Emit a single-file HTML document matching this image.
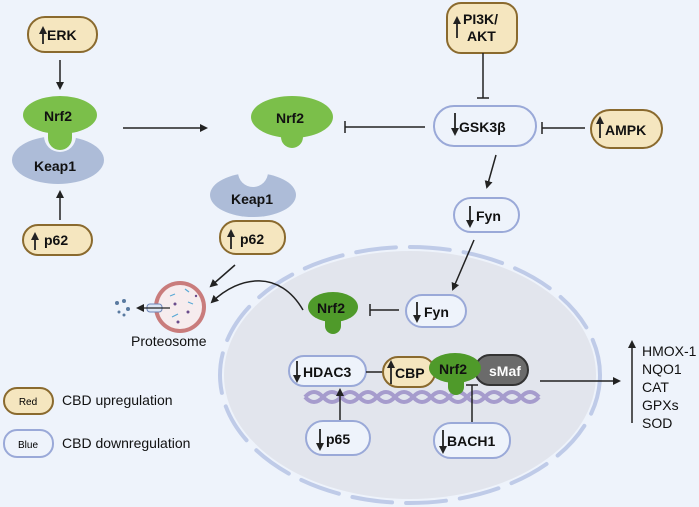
<!DOCTYPE html><html><head><style>body{margin:0;background:#eef3fb}svg{display:block;font-family:"Liberation Sans",sans-serif}</style></head><body>
<svg width="699" height="507" viewBox="0 0 699 507">
<defs><marker id="a" markerWidth="8" markerHeight="8" refX="6" refY="4" orient="auto" markerUnits="userSpaceOnUse"><path d="M0,0 L8,4 L0,8z" fill="#222"/></marker></defs>
<rect width="699" height="507" fill="#eef3fb"/>
<ellipse cx="410" cy="375" rx="186" ry="124" fill="#e2e5ed"/>
<ellipse cx="410" cy="375" rx="190" ry="128" fill="none" stroke="#bfcbe8" stroke-width="4" stroke-dasharray="40 14" stroke-linecap="round"/>
<g font-weight="bold" font-size="14" fill="#111">
<rect x="28" y="17" width="69" height="35" rx="17" fill="#f5e6bf" stroke="#8a6a2e" stroke-width="2"/>
<text x="47" y="40">ERK</text><line x1="43" y1="44" x2="43" y2="28" stroke="#222" stroke-width="1.8" marker-end="url(#a)"/>
<line x1="60" y1="60" x2="60" y2="88" stroke="#222" stroke-width="1.5" marker-end="url(#a)"/>
<ellipse cx="58" cy="160" rx="46" ry="24" fill="#adbcd8"/>
<circle cx="60" cy="136" r="16" fill="#eef3fb"/>
<text x="34" y="171">Keap1</text>
<ellipse cx="60" cy="115" rx="37" ry="19" fill="#7bbf4a"/><circle cx="60" cy="138" r="12" fill="#7bbf4a"/><rect x="48" y="120" width="24" height="18" fill="#7bbf4a"/>
<text x="44" y="121">Nrf2</text>
<line x1="60" y1="220" x2="60" y2="192" stroke="#222" stroke-width="1.5" marker-end="url(#a)"/>
<rect x="23" y="225" width="69" height="30" rx="15" fill="#f5e6bf" stroke="#8a6a2e" stroke-width="2"/>
<text x="44" y="245">p62</text><line x1="35" y1="250" x2="35" y2="234" stroke="#222" stroke-width="1.8" marker-end="url(#a)"/>
<line x1="123" y1="128" x2="206" y2="128" stroke="#222" stroke-width="1.5" marker-end="url(#a)"/>
<ellipse cx="292" cy="117" rx="41" ry="21" fill="#7bbf4a"/><circle cx="292" cy="137" r="11" fill="#7bbf4a"/><rect x="281" y="120" width="22" height="17" fill="#7bbf4a"/>
<text x="276" y="123">Nrf2</text>
<ellipse cx="253" cy="195" rx="43" ry="22" fill="#adbcd8"/><circle cx="253" cy="172" r="15" fill="#eef3fb"/>
<text x="231" y="204">Keap1</text>
<rect x="220" y="221" width="65" height="33" rx="16" fill="#f5e6bf" stroke="#8a6a2e" stroke-width="2"/>
<text x="240" y="244">p62</text><line x1="231" y1="249" x2="231" y2="231" stroke="#222" stroke-width="1.8" marker-end="url(#a)"/>
<line x1="345" y1="127" x2="425" y2="127" stroke="#222" stroke-width="1.5"/><line x1="345" y1="121" x2="345" y2="133" stroke="#222" stroke-width="1.5"/>
<rect x="434" y="106" width="102" height="40" rx="20" fill="#eef3fb" stroke="#9aa9d8" stroke-width="2"/>
<text x="459" y="132">GSK3β</text><line x1="455" y1="113" x2="455" y2="134" stroke="#222" stroke-width="1.8" marker-end="url(#a)"/>
<rect x="447" y="3" width="70" height="50" rx="14" fill="#f5e6bf" stroke="#8a6a2e" stroke-width="2"/>
<text x="463" y="24">PI3K/</text><text x="467" y="41">AKT</text><line x1="457" y1="38" x2="457" y2="18" stroke="#222" stroke-width="1.8" marker-end="url(#a)"/>
<line x1="483" y1="53" x2="483" y2="98" stroke="#222" stroke-width="1.5"/><line x1="477" y1="98" x2="489" y2="98" stroke="#222" stroke-width="1.5"/>
<rect x="591" y="110" width="71" height="38" rx="19" fill="#f5e6bf" stroke="#8a6a2e" stroke-width="2"/>
<text x="605" y="135">AMPK</text><line x1="600" y1="138" x2="600" y2="118" stroke="#222" stroke-width="1.8" marker-end="url(#a)"/>
<line x1="542" y1="128" x2="585" y2="128" stroke="#222" stroke-width="1.5"/><line x1="542" y1="122" x2="542" y2="134" stroke="#222" stroke-width="1.5"/>
<line x1="496" y1="155" x2="487" y2="187" stroke="#222" stroke-width="1.5" marker-end="url(#a)"/>
<rect x="454" y="198" width="65" height="34" rx="17" fill="#eef3fb" stroke="#9aa9d8" stroke-width="2"/>
<text x="476" y="221">Fyn</text><line x1="470" y1="206" x2="470" y2="226" stroke="#222" stroke-width="1.8" marker-end="url(#a)"/>
<line x1="474" y1="240" x2="453" y2="289" stroke="#222" stroke-width="1.5" marker-end="url(#a)"/>
<rect x="406" y="295" width="60" height="32" rx="16" fill="#eef3fb" stroke="#9aa9d8" stroke-width="2"/>
<text x="424" y="317">Fyn</text><line x1="417" y1="302" x2="417" y2="321" stroke="#222" stroke-width="1.8" marker-end="url(#a)"/>
<line x1="370" y1="310" x2="399" y2="310" stroke="#222" stroke-width="1.5"/><line x1="370" y1="304" x2="370" y2="316" stroke="#222" stroke-width="1.5"/>
<ellipse cx="333" cy="307" rx="25" ry="15" fill="#4f9a2a"/><circle cx="333" cy="326" r="8" fill="#4f9a2a"/><rect x="325" y="315" width="16" height="11" fill="#4f9a2a"/>
<text x="317" y="313">Nrf2</text>
<path d="M303,310 C280,270 240,275 212,302" fill="none" stroke="#222" stroke-width="1.5" marker-end="url(#a)"/>
<line x1="235" y1="265" x2="211" y2="286" stroke="#222" stroke-width="1.5" marker-end="url(#a)"/>
<path d="M305,397 q9,-10 18,0 t18,0 t18,0 t18,0 t18,0 t18,0 t18,0 t18,0 t18,0 t18,0 t18,0 t18,0 t18,0" fill="none" stroke="#a69ccd" stroke-width="4"/>
<path d="M305,397 q9,10 18,0 t18,0 t18,0 t18,0 t18,0 t18,0 t18,0 t18,0 t18,0 t18,0 t18,0 t18,0 t18,0" fill="none" stroke="#a69ccd" stroke-width="4"/>
<rect x="289" y="356" width="77" height="30" rx="15" fill="#eef3fb" stroke="#9aa9d8" stroke-width="2"/>
<text x="303" y="377">HDAC3</text><line x1="297" y1="361" x2="297" y2="381" stroke="#222" stroke-width="1.8" marker-end="url(#a)"/>
<line x1="366" y1="372" x2="385" y2="372" stroke="#222" stroke-width="1.5"/><line x1="385" y1="366" x2="385" y2="378" stroke="#222" stroke-width="1.5"/>
<rect x="383" y="357" width="52" height="30" rx="15" fill="#f5e6bf" stroke="#8a6a2e" stroke-width="2"/>
<text x="395" y="378">CBP</text><line x1="391" y1="384" x2="391" y2="362" stroke="#222" stroke-width="1.8" marker-end="url(#a)"/>
<rect x="475" y="355" width="53" height="30" rx="15" fill="#6b6b6b" stroke="#333" stroke-width="2"/>
<text x="489" y="376" fill="#fff">sMaf</text>
<ellipse cx="455" cy="368" rx="26" ry="15" fill="#4f9a2a"/><circle cx="456" cy="387" r="8" fill="#4f9a2a"/><rect x="448" y="376" width="16" height="11" fill="#4f9a2a"/>
<text x="439" y="374">Nrf2</text>
<line x1="340" y1="420" x2="340" y2="390" stroke="#222" stroke-width="1.5" marker-end="url(#a)"/>
<rect x="306" y="421" width="64" height="34" rx="17" fill="#eef3fb" stroke="#9aa9d8" stroke-width="2"/>
<text x="326" y="444">p65</text><line x1="320" y1="429" x2="320" y2="449" stroke="#222" stroke-width="1.8" marker-end="url(#a)"/>
<line x1="472" y1="422" x2="472" y2="385" stroke="#222" stroke-width="1.5"/><line x1="466" y1="385" x2="478" y2="385" stroke="#222" stroke-width="1.5"/>
<rect x="434" y="423" width="76" height="35" rx="17" fill="#eef3fb" stroke="#9aa9d8" stroke-width="2"/>
<text x="447" y="446">BACH1</text><line x1="443" y1="430" x2="443" y2="452" stroke="#222" stroke-width="1.8" marker-end="url(#a)"/>
</g>
<line x1="540" y1="381" x2="619" y2="381" stroke="#222" stroke-width="1.5" marker-end="url(#a)"/>
<line x1="632" y1="423" x2="632" y2="342" stroke="#222" stroke-width="1.5" marker-end="url(#a)"/>
<g font-size="14" fill="#111"><text x="642" y="356">HMOX-1</text><text x="642" y="374">NQO1</text><text x="642" y="392">CAT</text><text x="642" y="410">GPXs</text><text x="642" y="428">SOD</text></g>
<circle cx="180" cy="307" r="26" fill="#c97c7c"/><circle cx="180" cy="307" r="22" fill="#f6ecee"/>
<g stroke="#5aa9d6" stroke-width="1.2"><line x1="170" y1="296" x2="175" y2="294"/><line x1="188" y1="302" x2="193" y2="304"/><line x1="172" y1="317" x2="178" y2="314"/><line x1="185" y1="289" x2="189" y2="292"/></g>
<g fill="#6a4c8c"><circle cx="175" cy="304" r="1.5"/><circle cx="188" cy="312" r="1.5"/><circle cx="178" cy="322" r="1.5"/><circle cx="196" cy="296" r="1.2"/></g>
<rect x="147" y="304" width="15" height="8" rx="3" fill="#dce6f5" stroke="#6f86b8"/>
<line x1="170" y1="308" x2="138" y2="308" stroke="#222" stroke-width="1.2" marker-end="url(#a)"/>
<g fill="#5a7aa0"><circle cx="124" cy="301" r="2"/><circle cx="117" cy="303" r="2"/><circle cx="128" cy="309" r="2"/><circle cx="119" cy="312" r="1.5"/><circle cx="124" cy="315" r="1.5"/></g>
<text x="131" y="346" font-size="14" fill="#111">Proteosome</text>
<rect x="4" y="388" width="49" height="26" rx="13" fill="#f5e6bf" stroke="#8a6a2e" stroke-width="2"/><text x="28" y="405" font-size="10" text-anchor="middle">Red</text>
<rect x="4" y="430" width="49" height="27" rx="13" fill="#eef3fb" stroke="#9aa9d8" stroke-width="2"/><text x="28" y="448" font-size="10" text-anchor="middle">Blue</text>
<text x="62" y="405" font-size="14" fill="#111">CBD upregulation</text>
<text x="62" y="448" font-size="14" fill="#111">CBD downregulation</text>
</svg></body></html>
